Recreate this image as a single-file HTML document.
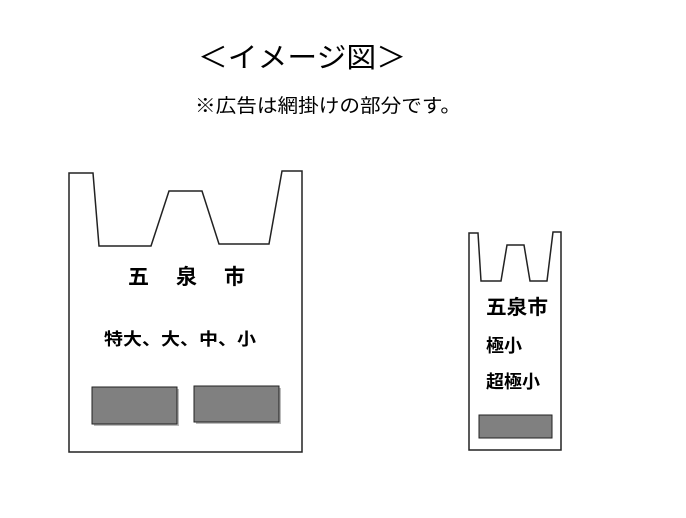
<!DOCTYPE html>
<html><head><meta charset="utf-8"><style>
body{margin:0;background:#fff;}
svg{display:block}
text{font-family:"Liberation Sans","Noto Sans CJK JP",sans-serif;fill:#000}
</style></head><body>
<svg width="686" height="518" viewBox="0 0 686 518" xmlns="http://www.w3.org/2000/svg">
<text x="198" y="67" font-size="28" textLength="208" lengthAdjust="spacingAndGlyphs">＜イメージ図＞</text>
<text x="195" y="112" font-size="19" textLength="266" lengthAdjust="spacingAndGlyphs">※広告は網掛けの部分です。</text>
<polygon points="69,173 93,173 99,246 151,246 169,191 202,191 219,244 269,244 282,171 302,171 302,452 69,452" fill="#fff" stroke="#222" stroke-width="1.5"/>
<rect x="94" y="389" width="85" height="37" fill="#bbb"/>
<rect x="92" y="387" width="85" height="37" fill="#808080" stroke="#222" stroke-width="1"/>
<rect x="196" y="388" width="85" height="36" fill="#bbb"/>
<rect x="194" y="386" width="85" height="36" fill="#808080" stroke="#222" stroke-width="1"/>
<text x="128" y="284" font-size="21" font-weight="bold">五</text>
<text x="176" y="284" font-size="21" font-weight="bold">泉</text>
<text x="224" y="284" font-size="21" font-weight="bold">市</text>
<text x="104" y="345" font-size="17" font-weight="bold" textLength="152" lengthAdjust="spacingAndGlyphs">特大、大、中、小</text>
<polygon points="469,233 478,233 481,281 501,281 507,245 524,245 530,281 547,281 553,232 561,232 561,450 469,450" fill="#fff" stroke="#222" stroke-width="1.5"/>
<rect x="479" y="415" width="73" height="23" fill="#808080" stroke="#222" stroke-width="1"/>
<text x="486" y="314" font-size="20" font-weight="bold" textLength="62" lengthAdjust="spacingAndGlyphs">五泉市</text>
<text x="486" y="352" font-size="18" font-weight="bold">極小</text>
<text x="486" y="388" font-size="18" font-weight="bold">超極小</text>
</svg>
</body></html>
